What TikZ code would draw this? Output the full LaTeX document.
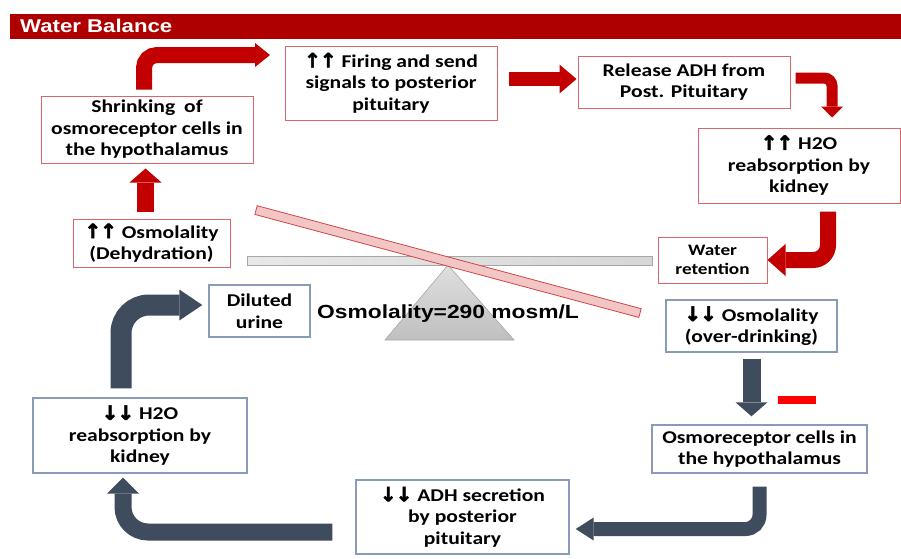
\documentclass[tikz,border=0pt]{standalone}
\usepackage{fontspec}
\setmainfont{Carlito}[FakeStretch=1.2]
\newfontfamily\arialb{Liberation Sans}[FakeStretch=1.2]
\newfontfamily\arrf{DejaVu Sans}[FakeBold=2.5]
\usetikzlibrary{arrows.meta,calc}
\definecolor{titlered}{HTML}{AE0000}
\definecolor{boxred}{HTML}{D8676C}
\definecolor{boxblue}{HTML}{8A9BBA}
\definecolor{arrred}{HTML}{C20000}
\definecolor{arrdark}{HTML}{3E4C5E}
\definecolor{tiltfill}{HTML}{F3C6C6}
\definecolor{tiltdraw}{HTML}{D04545}
\newcommand\upar{{\arrf\fontsize{20}{21.5}\selectfont ↑}}
\newcommand\dnar{{\arrf\fontsize{20}{21.5}\selectfont ↓}}
\newcommand\twoup{\upar\kern-1pt\upar}
\newcommand\twodn{\dnar\kern-1pt\dnar}
\begin{document}
\begin{tikzpicture}[x=1pt,y=-1pt,
  boxbase/.style={fill=white, align=center, inner sep=0pt,
    font=\fontsize{18}{21.5}\selectfont\bfseries},
  rbox/.style={boxbase, draw=boxred, line width=1pt},
  bbox/.style={boxbase, draw=boxblue, line width=1.4pt},
  redarr/.style={draw=arrred},
  darkarr/.style={draw=arrdark},
]
\useasboundingbox (0,0) rectangle (901,558);
\fill[white] (0,0) rectangle (901,558);
% title bar
\fill[titlered] (10,14) rectangle (901,39);
\node[anchor=base west, text=white, inner sep=0pt,
  font=\arialb\fontsize{18.5}{20}\selectfont\bfseries] (title) at (20,32) {Water Balance};

% boxes
\node[rbox, minimum width=212, minimum height=67] (shrink) at (147,129.5)
  {Shrinking\enspace of\\osmoreceptor cells in\\the hypothalamus};
\node[rbox, minimum width=212, minimum height=74] (firing) at (391,83)
  {\twoup{} Firing and send\\signals to posterior\\pituitary};
\node[rbox, minimum width=212, minimum height=52] (release) at (684,82)
  {Release ADH from\\Post. Pituitary};
\node[rbox, minimum width=202, minimum height=75] (reabsUp) at (799,165.5)
  {\twoup{} H2O\\reabsorption by\\kidney};
\node[rbox, minimum width=109, minimum height=46,
  font=\fontsize{16}{19.5}\selectfont\bfseries] (retention) at (712.5,260)
  {Water\\retention};
\node[rbox, minimum width=157, minimum height=48] (osmUp) at (151.5,243)
  {\twoup{} Osmolality\\(Dehydration)};

% seesaw
\shade[left color=gray!18, right color=gray!32, draw=gray!70, line width=0.8pt]
  (247,256) rectangle (652,265);
\shade[top color=gray!25, bottom color=gray!50, draw=gray!70, line width=0.6pt]
  (448,265) -- (514,340) -- (385,340) -- cycle;
\filldraw[fill=tiltfill, draw=tiltdraw, line width=0.8pt]
  (257.2,205.7) -- (641.2,308.7) -- (638.8,317.4) -- (254.8,214.4) -- cycle;
\node[inner sep=0pt, font=\arialb\fontsize{19}{22}\selectfont\bfseries] (osm) at (448,314)
  {Osmolality=290 mosm/L};

\node[bbox, minimum width=101, minimum height=52] (diluted) at (259.5,311)
  {Diluted\\urine};
\node[bbox, minimum width=171, minimum height=52] (osmDown) at (751.5,326)
  {\twodn{} Osmolality\\(over-drinking)};
\node[bbox, minimum width=215, minimum height=48] (osmoCells) at (759.5,449)
  {Osmoreceptor cells in\\the hypothalamus};
\node[bbox, minimum width=213, minimum height=74] (adhDown) at (462.5,517)
  {\twodn{} ADH secretion\\by posterior\\pituitary};
\node[bbox, minimum width=214, minimum height=75] (reabsDown) at (140,435.5)
  {\twodn{} H2O\\reabsorption by\\kidney};

% red arrows
\coordinate (a1tip) at (270,55);
\draw[redarr, line width=16pt, rounded corners=13pt,
  -{Triangle[length=15pt,width=24pt,line width=0pt]}]
  ([xshift=-3pt,yshift=6pt]shrink.north) |- (a1tip);
\draw[redarr, line width=14pt, -{Triangle[length=17pt,width=29pt,line width=0pt]}]
  ([xshift=11pt,yshift=4pt]firing.east) -- ([xshift=-1pt,yshift=3pt]release.west);
\draw[redarr, line width=11pt, rounded corners=8pt,
  -{Triangle[length=11pt,width=22pt,line width=0pt]}]
  ([xshift=5pt,yshift=4pt]release.east) -| ([xshift=33pt,yshift=10pt]reabsUp.north);
\draw[redarr, line width=16pt, rounded corners=15pt,
  -{Triangle[length=18pt,width=32pt,line width=0pt]}]
  ([xshift=29pt,yshift=-8pt]reabsUp.south) |- (retention.east);
\draw[redarr, line width=17pt, -{Triangle[length=14pt,width=32pt,line width=0pt]}]
  ([xshift=-6pt,yshift=7pt]osmUp.north) -- ([xshift=-1.5pt,yshift=-5pt]shrink.south);

% dark arrows
\draw[darkarr, line width=21pt, rounded corners=28pt,
  -{Triangle[length=23pt,width=31pt,line width=0pt]}]
  ([xshift=-19pt,yshift=9pt]reabsDown.north) |- ([xshift=-6pt,yshift=6pt]diluted.west);
\draw[darkarr, line width=18pt, -{Triangle[length=14pt,width=32pt,line width=0pt]}]
  ([yshift=-6pt]osmDown.south) -- ([xshift=-8pt,yshift=8pt]osmoCells.north);
\draw[darkarr, line width=14pt, rounded corners=14pt,
  -{Triangle[length=18pt,width=23pt,line width=0pt]}]
  ([yshift=-13pt]osmoCells.south) |- ([xshift=6pt,yshift=-12pt]adhDown.east);
\draw[darkarr, line width=17pt, rounded corners=25pt,
  -{Triangle[length=16pt,width=32pt,line width=0pt]}]
  ([xshift=-23pt,yshift=-15pt]adhDown.west) -| ([xshift=-17pt,yshift=-4pt]reabsDown.south);

% inhibition mark
\fill[red] (778,396) rectangle (816,404);
\end{tikzpicture}
\end{document}
